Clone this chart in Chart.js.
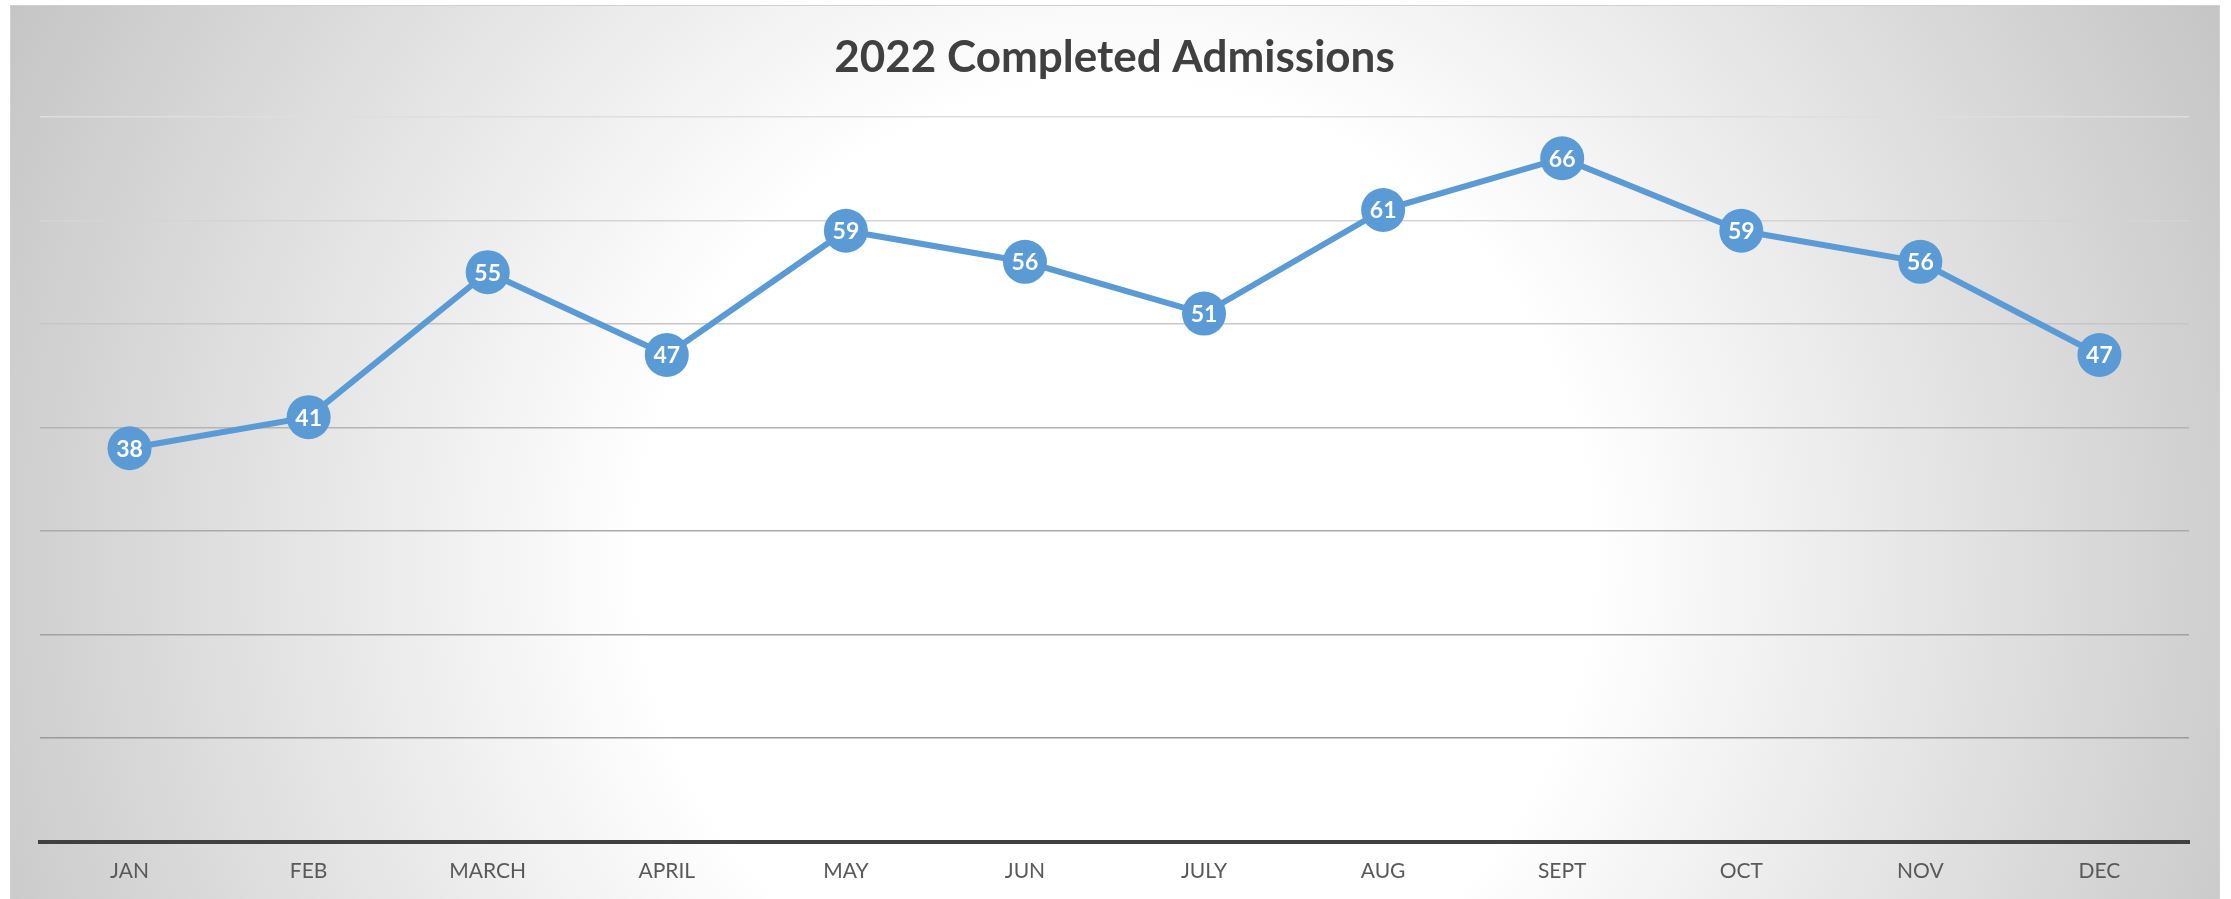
<!DOCTYPE html>
<html>
<head>
<meta charset="utf-8">
<script src="https://cdn.jsdelivr.net/npm/chart.js@4"></script>
<style>
  html, body { margin: 0; padding: 0; background: #fff; }
  #wrap { width: 2231px; height: 899px; position: relative; }
</style>
</head>
<body>
<div id="wrap"><canvas id="admChart"></canvas></div>
<script>
const months = ['JAN', 'FEB', 'MARCH', 'APRIL', 'MAY', 'JUN', 'JULY', 'AUG', 'SEPT', 'OCT', 'NOV', 'DEC'];
const admissions = [38, 41, 55, 47, 59, 56, 51, 61, 66, 59, 56, 47];
const yMax = 70;
const yStep = 10;

// gridlines fade out toward the top, like the original
const gridShade = {10: '#9a9a9a', 20: '#a2a2a2', 30: '#aaaaaa', 40: '#b4b4b4', 50: '#c6c6c6', 60: '#d4d4d4', 70: '#dedede'};

const bgPlugin = {
    id: 'bgPlugin',
    beforeDraw(chart) {
        const c = chart.ctx;
        c.save();
        const g = c.createRadialGradient(1115, 560, 0, 1115, 560, 1250);
        g.addColorStop(0, '#ffffff');
        g.addColorStop(0.38, '#ffffff');
        g.addColorStop(1, '#c4c4c4');
        c.fillStyle = g;
        c.fillRect(10, 5, 2210, 894);
        c.strokeStyle = '#d0d0d0';
        c.lineWidth = 1;
        c.strokeRect(10.5, 5.5, 2209, 900);
        c.restore();
    }
};

const labelPlugin = {
    id: 'labelPlugin',
    afterDatasetsDraw(chart) {
        const c = chart.ctx;
        const meta = chart.getDatasetMeta(0);
        c.save();
        c.fillStyle = '#ffffff';
        c.font = 'bold 23px Lato';
        c.textAlign = 'center';
        c.textBaseline = 'middle';
        meta.data.forEach((pt, i) => {
            c.fillText(String(admissions[i]), pt.x, pt.y + 1);
        });
        c.restore();
    }
};

const ctx = document.getElementById('admChart').getContext('2d');
const admChart = new Chart(ctx, {
    type: 'line',
    data: {
        labels: months,
        datasets: [{
            label: 'Completed Admissions',
            data: admissions,
            borderColor: '#5b9bd5',
            borderWidth: 6,
            pointRadius: 22,
            pointHoverRadius: 22,
            pointBackgroundColor: '#5b9bd5',
            pointBorderColor: '#5b9bd5',
            pointBorderWidth: 0,
            tension: 0
        }]
    },
    options: {
        responsive: true,
        maintainAspectRatio: false,
        animation: false,
        layout: {
            padding: {top: 5, left: 40, right: 42, bottom: 6}
        },
        scales: {
            x: {
                offset: true,
                grid: {display: false},
                border: {display: true, color: '#404040', width: 4},
                ticks: {
                    color: '#595959',
                    font: {family: 'Lato', size: 21},
                    padding: 9,
                    maxRotation: 0
                }
            },
            y: {
                min: 0,
                max: yMax,
                ticks: {display: false, stepSize: yStep},
                border: {display: false},
                grid: {
                    drawTicks: false,
                    lineWidth: 1.5,
                    color: (c) => gridShade[c.tick.value] || 'rgba(0,0,0,0)'
                }
            }
        },
        plugins: {
            legend: {display: false},
            tooltip: {enabled: false},
            title: {
                display: true,
                text: '2022 Completed Admissions',
                color: '#404040',
                font: {family: 'Lato', size: 44, weight: 'bold'},
                padding: {top: 26, bottom: 33}
            }
        }
    },
    plugins: [bgPlugin, labelPlugin]
});
</script>
</body>
</html>
